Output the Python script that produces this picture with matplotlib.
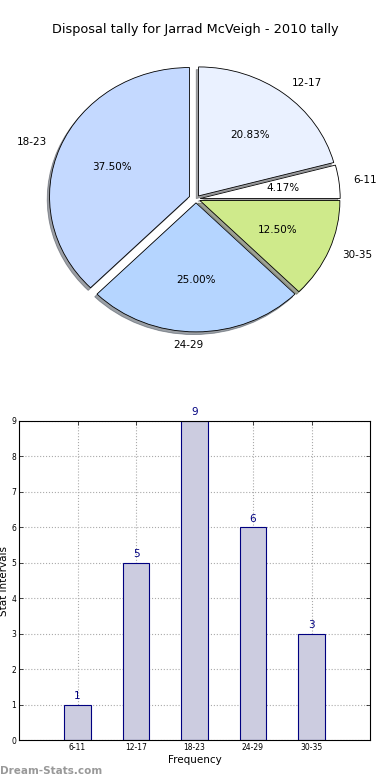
import matplotlib
matplotlib.use("Agg")
import matplotlib.pyplot as plt
import numpy as np

title = "Disposal tally for Jarrad McVeigh - 2010 tally"
categories = ["6-11", "12-17", "18-23", "24-29", "30-35"]
counts = [1, 5, 9, 6, 3]
pie_colors = ["#FFFFFF", "#EAF1FF", "#C4D9FF", "#B5D5FF", "#CFEA8B"]
explode = [0.03, 0.03, 0.05, 0.03, 0.03]

W, H = 390, 780
fig = plt.figure(figsize=(W / 100, H / 100), dpi=100)

def px_axes(left, top, right, bottom):
    return fig.add_axes([left / W, 1 - bottom / H, (right - left) / W, (bottom - top) / H])

fig.text(195 / W, 1 - 30 / H, title, ha="center", va="center", fontsize=9.3)

# Pie
cx, cy = 196, 199
sx, sy = 140, 129
axp = px_axes(cx - 1.25 * sx, cy - 1.25 * sy, cx + 1.25 * sx, cy + 1.25 * sy)
wedges, texts, autotexts = axp.pie(
    counts, labels=categories, colors=pie_colors, explode=explode,
    autopct="%1.2f%%", shadow=dict(ox=-0.012, oy=-0.015, shade=0.7, alpha=0.5),
    startangle=0,
    wedgeprops=dict(edgecolor="black", linewidth=0.6),
    textprops=dict(fontsize=7.5))
texts[3].set_horizontalalignment("right")
texts[3].set_x(texts[3].get_position()[0] + 0.05)
axp.set_aspect("auto")
axp.set_xlim(-1.25, 1.25)
axp.set_ylim(-1.25, 1.25)
axp.axis("off")

# Bars
axb = px_axes(19, 421, 370, 740)
x = np.arange(1, len(categories) + 1)
bars = axb.bar(x, counts, width=0.45, color="#CCCCE0", edgecolor="#000080", linewidth=0.8, zorder=2)
for xi, c in zip(x, counts):
    axb.text(xi, c + 0.1, str(c), ha="center", va="bottom", color="#000080", fontsize=7.5)
axb.set_xlim(0, 6)
axb.set_ylim(0, 9)
axb.set_xticks(x)
axb.set_xticklabels(categories)
axb.set_yticks(range(0, 10))
axb.tick_params(labelsize=5.5, direction="in", top=True, right=True, length=3, width=0.5, pad=2)
axb.grid(True, linestyle=":", color="#AAAAAA", linewidth=0.8, zorder=0)
axb.set_axisbelow(True)
axb.set_xlabel("Frequency", fontsize=7.5, labelpad=2)
axb.set_ylabel("Stat Intervals", fontsize=7.5)
axb.yaxis.set_label_coords(-9.5 / 351, 0.5)
for s in axb.spines.values():
    s.set_linewidth(0.8)

fig.text(0, 1 - 771 / H, "Dream-Stats.com", ha="left", va="center", fontsize=7.5,
         color="#999999", fontweight="bold")

fig.savefig("out.png", dpi=100)
